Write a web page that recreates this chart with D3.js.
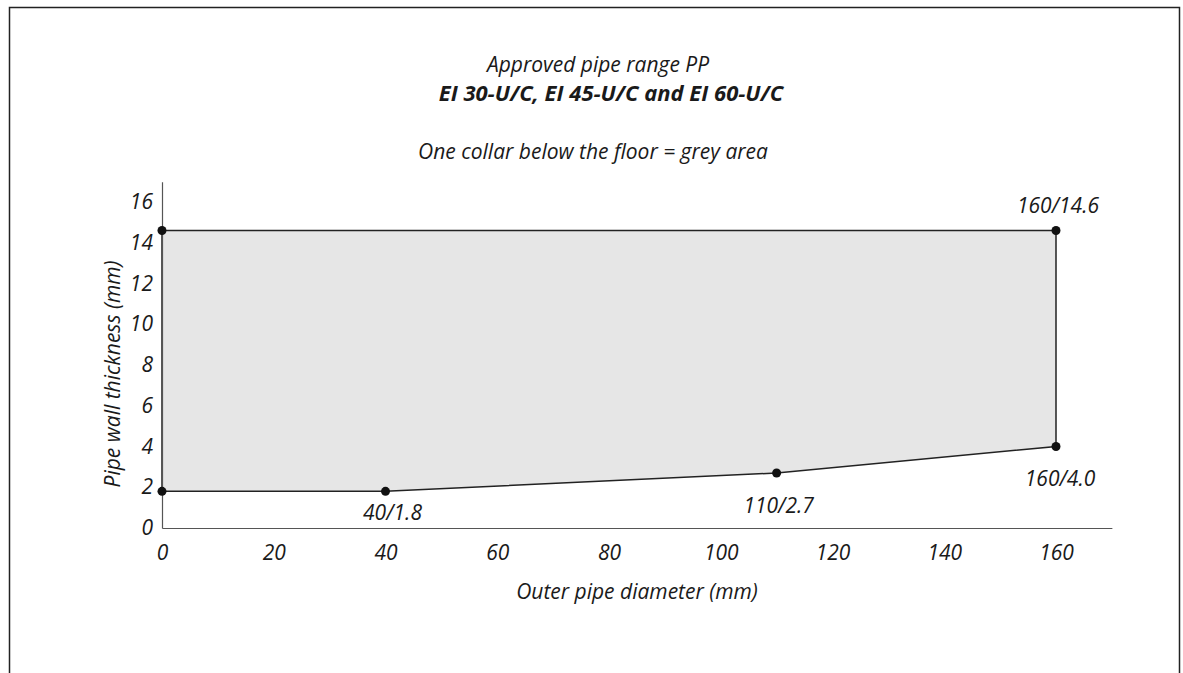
<!DOCTYPE html>
<html><head><meta charset="utf-8">
<script src="https://cdn.jsdelivr.net/npm/d3@7"></script>
<style>body{margin:0;background:#fff}svg text{font-family:"Open Sans",sans-serif;font-style:italic;fill:#1a1a1a}</style>
</head><body><svg id="c" width="1183" height="673"></svg>
<script>
const titleLines = ["Approved pipe range PP", "EI 30-U/C, EI 45-U/C and EI 60-U/C", "One collar below the floor = grey area"];
const xTicks = [0, 20, 40, 60, 80, 100, 120, 140, 160];
const yTicks = [0, 2, 4, 6, 8, 10, 12, 14, 16];
const diameters = [0, 160, 160, 110, 40, 0];
const thickness = [14.6, 14.6, 4.0, 2.7, 1.8, 1.8];
const pointLabels = ["", "160/14.6", "160/4.0", "110/2.7", "40/1.8", ""];
const xTitle = "Outer pipe diameter (mm)";
const yTitle = "Pipe wall thickness (mm)";

const FS = 21;
const svg = d3.select("#c");
const x = d3.scaleLinear().domain([0, 170]).range([162, 162 + 170 * (894 / 160)]);
const y = d3.scaleLinear().domain([0, 17]).range([528, 528 - 17 * (326 / 16)]);

// frame
svg.append("path").attr("d", "M9.5,673 V7.5 H1179.5 V673").attr("fill", "none").attr("stroke", "#222").attr("stroke-width", 1.5);

// titles
svg.append("text").attr("x", 598).attr("y", 72).attr("text-anchor", "middle").attr("font-size", FS).text(titleLines[0]);
svg.append("text").attr("x", 611).attr("y", 101).attr("text-anchor", "middle").attr("font-size", FS + 1).attr("font-weight", "bold").text(titleLines[1]);
svg.append("text").attr("x", 593).attr("y", 159).attr("text-anchor", "middle").attr("font-size", FS).text(titleLines[2]);

const pts = diameters.map((d, i) => ({x: d, y: thickness[i], label: pointLabels[i]}));

// area
svg.append("path")
  .attr("d", d3.line().x(d => x(d.x)).y(d => y(d.y))(pts) + "Z")
  .attr("fill", "#e6e6e6").attr("stroke", "#222").attr("stroke-width", 1.5);

// axes
const xa = svg.append("g").attr("transform", `translate(0,${y(0)})`)
  .call(d3.axisBottom(x).tickValues(xTicks).tickSize(0).tickPadding(24));
const ya = svg.append("g").attr("transform", `translate(${x(0)},0)`)
  .call(d3.axisLeft(y).tickValues(yTicks).tickSize(0).tickPadding(9));
[xa, ya].forEach(a => {
  a.select(".domain").attr("stroke", "#555").attr("stroke-width", 1.2);
  a.selectAll("text").attr("font-size", FS).attr("font-family", null).attr("fill", "#1a1a1a");
});
xa.selectAll("text").attr("dy", "0.4em");

// points
svg.selectAll("circle.pt").data(pts).join("circle")
  .attr("cx", d => x(d.x)).attr("cy", d => y(d.y)).attr("r", 4.5).attr("fill", "#111");

// point labels
const lblOff = {"160/14.6": [2, -18], "160/4.0": [4, 39], "110/2.7": [2, 40], "40/1.8": [7, 29]};
svg.selectAll("text.pl").data(pts.filter(d => d.label)).join("text")
  .attr("x", d => x(d.x) + lblOff[d.label][0]).attr("y", d => y(d.y) + lblOff[d.label][1])
  .attr("text-anchor", "middle").attr("font-size", FS).text(d => d.label);

// axis titles
svg.append("text").attr("x", 637).attr("y", 599).attr("text-anchor", "middle").attr("font-size", FS).text(xTitle);
svg.append("text").attr("transform", "translate(120,374) rotate(-90)").attr("text-anchor", "middle").attr("font-size", FS).text(yTitle);
</script></body></html>
